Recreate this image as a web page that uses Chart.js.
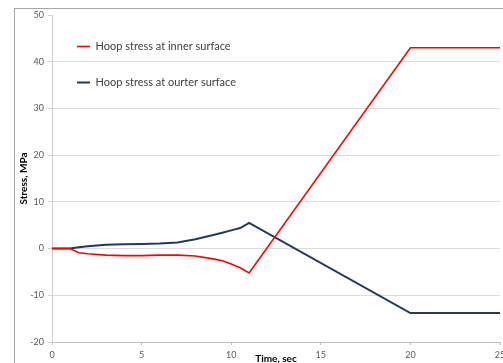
<!DOCTYPE html>
<html>
<head>
<meta charset="utf-8">
<script src="https://cdn.jsdelivr.net/npm/chart.js@4/dist/chart.umd.min.js"></script>
<style>
  html, body { margin: 0; padding: 0; background: #fff; overflow: hidden; }
  #wrap { position: absolute; left: 0; top: 0; width: 503px; height: 363px; }
</style>
</head>
<body>
<div id="wrap"><canvas id="stress-chart" width="503" height="363"></canvas></div>
<script>
// time, sec
const times = [0, 1, 1.5, 2, 3, 4, 5, 6, 7, 8, 9, 9.5, 10, 10.5, 11, 20, 25];
// hoop stress, MPa
const innerStress = [0, 0, -0.9, -1.1, -1.4, -1.5, -1.5, -1.4, -1.4, -1.6, -2.2, -2.6, -3.3, -4.1, -5.2, 43, 43];
const outerStress = [0, 0, 0.3, 0.5, 0.8, 0.9, 1.0, 1.1, 1.3, 2.0, 2.9, 3.4, 3.9, 4.4, 5.5, -13.8, -13.8];

const seriesNames = ['Hoop stress at inner surface', 'Hoop stress at ourter surface'];
const yTicks = { min: -20, max: 50, step: 10 };
const xTicks = { min: 0, max: 25, step: 5 };

const font = 'Lato, "Open Sans", sans-serif';

function toPoints(ys) {
    return times.map((t, i) => ({ x: t, y: ys[i] }));
}

// the outer chart border (left and top edges only are in view)
const frame = {
    id: 'frame',
    beforeDraw(chart) {
        const ctx = chart.ctx;
        ctx.save();
        ctx.strokeStyle = '#a6a6a6';
        ctx.lineWidth = 1;
        ctx.strokeRect(14.5, 8.5, 800, 800);
        ctx.restore();
    }
};

const config = {
    type: 'line',
    data: {
        datasets: [{
            label: seriesNames[0],
            data: toPoints(innerStress),
            borderColor: '#ff0000',
            backgroundColor: '#ff0000',
            borderWidth: 1.6,
            pointRadius: 0,
            tension: 0
        }, {
            label: seriesNames[1],
            data: toPoints(outerStress),
            borderColor: '#1f3864',
            backgroundColor: '#1f3864',
            borderWidth: 2,
            pointRadius: 0,
            tension: 0
        }]
    },
    options: {
        responsive: false,
        animation: false,
        devicePixelRatio: 1,
        layout: {
            padding: { left: 0, top: 15, right: 3, bottom: 0 }
        },
        plugins: {
            legend: {
                position: 'chartArea',
                align: 'start',
                // empty title only pushes the entries down
                title: {
                    display: true,
                    text: '',
                    padding: 2,
                    font: { family: font, size: 10 }
                },
                labels: {
                    usePointStyle: true,
                    pointStyle: 'line',
                    pointStyleWidth: 13,
                    padding: 25,
                    color: '#404040',
                    font: { family: font, size: 11 }
                }
            },
            tooltip: { enabled: false }
        },
        scales: {
            x: {
                type: 'linear',
                min: xTicks.min,
                max: xTicks.max,
                afterFit(scale) {
                    scale.height = 21;
                    scale.paddingLeft = 0;
                    scale.paddingRight = 0;
                },
                ticks: {
                    stepSize: xTicks.step,
                    padding: 5,
                    maxRotation: 0,
                    color: '#595959',
                    font: { family: font, size: 9 }
                },
                grid: {
                    drawOnChartArea: false,
                    drawTicks: true,
                    tickLength: 3,
                    tickColor: '#bfbfbf'
                },
                border: { color: '#bfbfbf' },
                title: {
                    display: true,
                    text: 'Time, sec',
                    color: '#000',
                    padding: { top: 0, bottom: -1.5 },
                    font: { family: font, size: 10, weight: 'bold' }
                }
            },
            y: {
                type: 'linear',
                min: yTicks.min,
                max: yTicks.max,
                afterFit(scale) {
                    scale.width = 52;
                    scale.paddingTop = 0;
                    scale.paddingBottom = 0;
                },
                ticks: {
                    stepSize: yTicks.step,
                    padding: 4,
                    color: '#595959',
                    font: { family: font, size: 9 }
                },
                grid: {
                    color: c => c.tick && c.tick.value === yTicks.max ? 'rgba(0,0,0,0)' : '#dcdcdc',
                    tickColor: '#d0d0d0',
                    tickLength: 4
                },
                border: { color: '#d0d0d0' },
                title: {
                    display: true,
                    text: 'Stress, MPa',
                    color: '#000',
                    padding: { top: 18, bottom: 0 },
                    font: { family: font, size: 10, weight: 'bold' }
                }
            }
        }
    },
    plugins: [frame]
};

const stressChart = new Chart(document.getElementById('stress-chart'), config);
</script>
</body>
</html>
